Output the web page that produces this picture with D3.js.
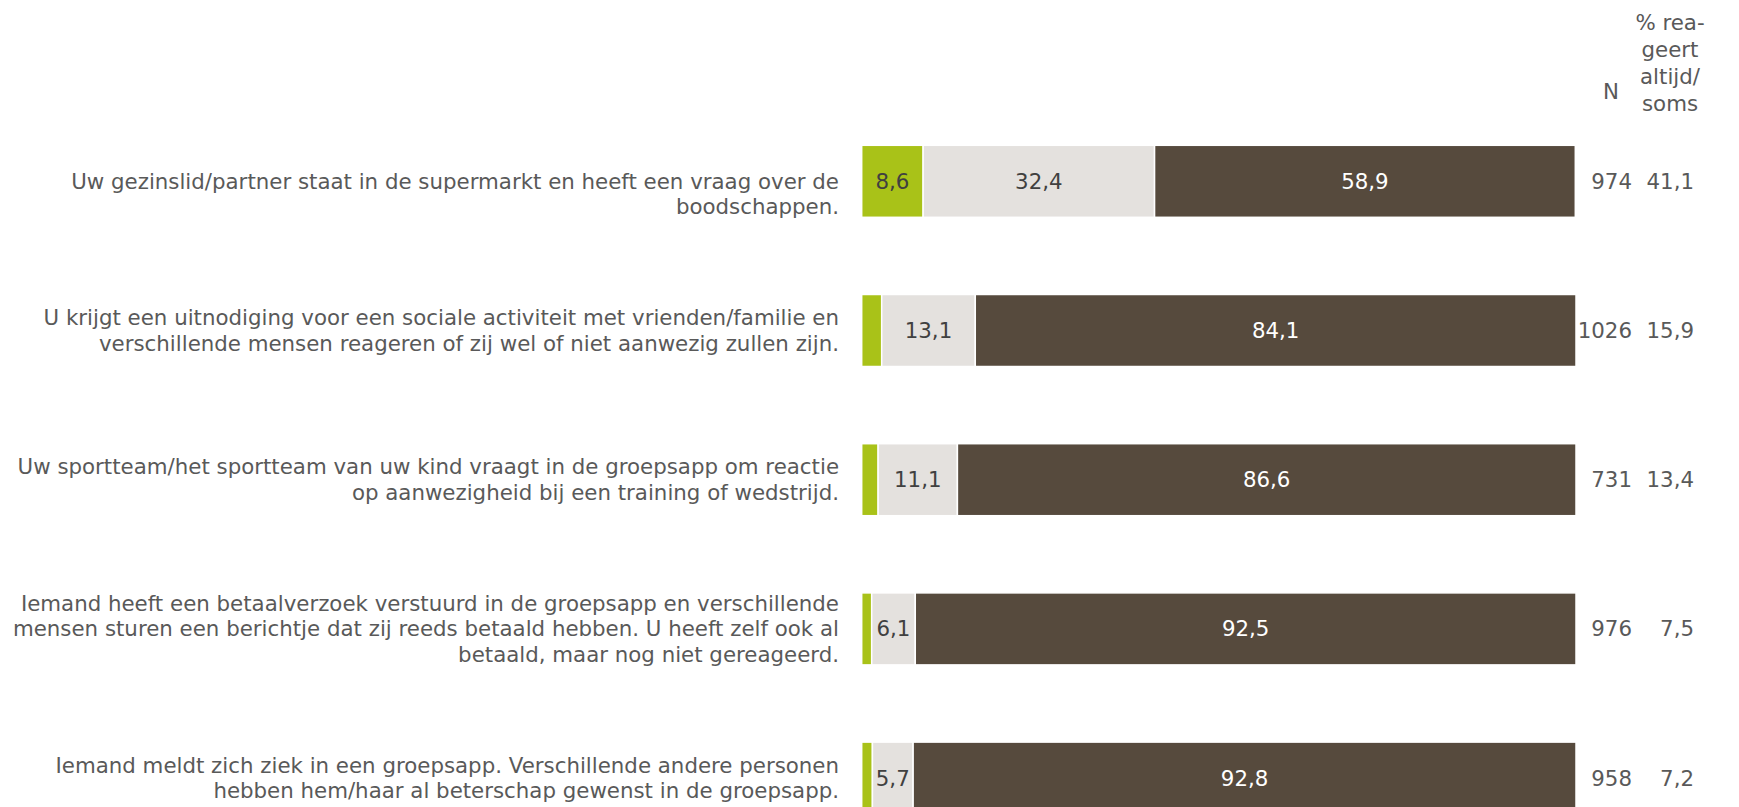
<!DOCTYPE html>
<html>
<head>
<meta charset="utf-8">
<script src="https://cdn.jsdelivr.net/npm/d3@7"></script>
<style>
  html, body { margin: 0; padding: 0; background: #ffffff; }
  svg { display: block; }
  text { font-family: "DejaVu Sans", Verdana, sans-serif; font-size: 21.33px; }
</style>
</head>
<body>
<svg id="chart" width="1739" height="807"></svg>
<script>
// ---- data ----
const categories = [
  "\nUw gezinslid/partner staat in de supermarkt en heeft een vraag over de\nboodschappen.",
  "U krijgt een uitnodiging voor een sociale activiteit met vrienden/familie en\nverschillende mensen reageren of zij wel of niet aanwezig zullen zijn.",
  "Uw sportteam/het sportteam van uw kind vraagt in de groepsapp om reactie\nop aanwezigheid bij een training of wedstrijd.",
  "Iemand heeft een betaalverzoek verstuurd in de groepsapp en verschillende\nmensen sturen een berichtje dat zij reeds betaald hebben. U heeft zelf ook al\nbetaald, maar nog niet gereageerd.",
  "Iemand meldt zich ziek in een groepsapp. Verschillende andere personen\nhebben hem/haar al beterschap gewenst in de groepsapp."
];
const seriesAltijd = [8.6, 2.8, 2.3, 1.4, 1.5];
const seriesSoms   = [32.4, 13.1, 11.1, 6.1, 5.7];
const seriesNooit  = [58.9, 84.1, 86.6, 92.5, 92.8];
const nValues      = ["974", "1026", "731", "976", "958"];
const pctValues    = ["41,1", "15,9", "13,4", "7,5", "7,2"];
const headerN      = ["N"];
const headerPct    = ["% rea-", "geert", "altijd/", "soms"];
const seriesColors = ["#a9c218", "#e4e1de", "#564a3d"];
const labelColors  = ["#404040", "#404040", "#ffffff"];

// ---- layout ----
const svg = d3.select("#chart");
const x = d3.scaleLinear().domain([0, 100]).range([861.7, 1576]);
const y = d3.scaleBand().domain(d3.range(categories.length))
  .range([106.7, 852.7]).paddingInner(0.5174).paddingOuter(0.2587);

const fmt = v => v.toFixed(1).replace(".", ",");
const series = [seriesAltijd, seriesSoms, seriesNooit];
const textGrey = "#595959";

categories.forEach((cat, i) => {
  let start = 0;
  const g = svg.append("g");
  series.forEach((s, k) => {
    const v = s[i];
    const x0 = x(start), x1 = x(start + v);
    g.append("rect")
      .attr("x", x0).attr("y", y(i))
      .attr("width", Math.max(0, x1 - x0)).attr("height", y.bandwidth())
      .attr("fill", seriesColors[k])
      .attr("stroke", "#ffffff").attr("stroke-width", 1.5);
    if (v >= 5) {
      g.append("text")
        .attr("x", (x0 + x1) / 2).attr("y", y(i) + y.bandwidth() / 2)
        .attr("text-anchor", "middle").attr("dominant-baseline", "central")
        .attr("fill", labelColors[k])
        .text(fmt(v));
    }
    start += v;
  });

  // category label (multi-line, right aligned, block centered on bar)
  const lines = cat.split("\n");
  const lh = 25.5;
  const cy = y(i) + y.bandwidth() / 2;
  const t = svg.append("text")
    .attr("text-anchor", "end").attr("fill", textGrey);
  lines.forEach((ln, j) => {
    t.append("tspan")
      .attr("x", 839)
      .attr("y", cy + (j - (lines.length - 1) / 2) * lh)
      .attr("dominant-baseline", "central")
      .text(ln);
  });

  // N and %
  svg.append("text")
    .attr("x", 1632).attr("y", cy)
    .attr("text-anchor", "end").attr("dominant-baseline", "central")
    .attr("fill", textGrey).text(nValues[i]);
  svg.append("text")
    .attr("x", 1694).attr("y", cy)
    .attr("text-anchor", "end").attr("dominant-baseline", "central")
    .attr("fill", textGrey).text(pctValues[i]);
});

// headers
svg.append("text")
  .attr("x", 1611).attr("y", 91)
  .attr("text-anchor", "middle").attr("dominant-baseline", "central")
  .attr("fill", textGrey).text(headerN[0]);
headerPct.forEach((h, j) => {
  svg.append("text")
    .attr("x", 1670).attr("y", 22 + j * 27)
    .attr("text-anchor", "middle").attr("dominant-baseline", "central")
    .attr("fill", textGrey).text(h);
});
</script>
</body>
</html>
